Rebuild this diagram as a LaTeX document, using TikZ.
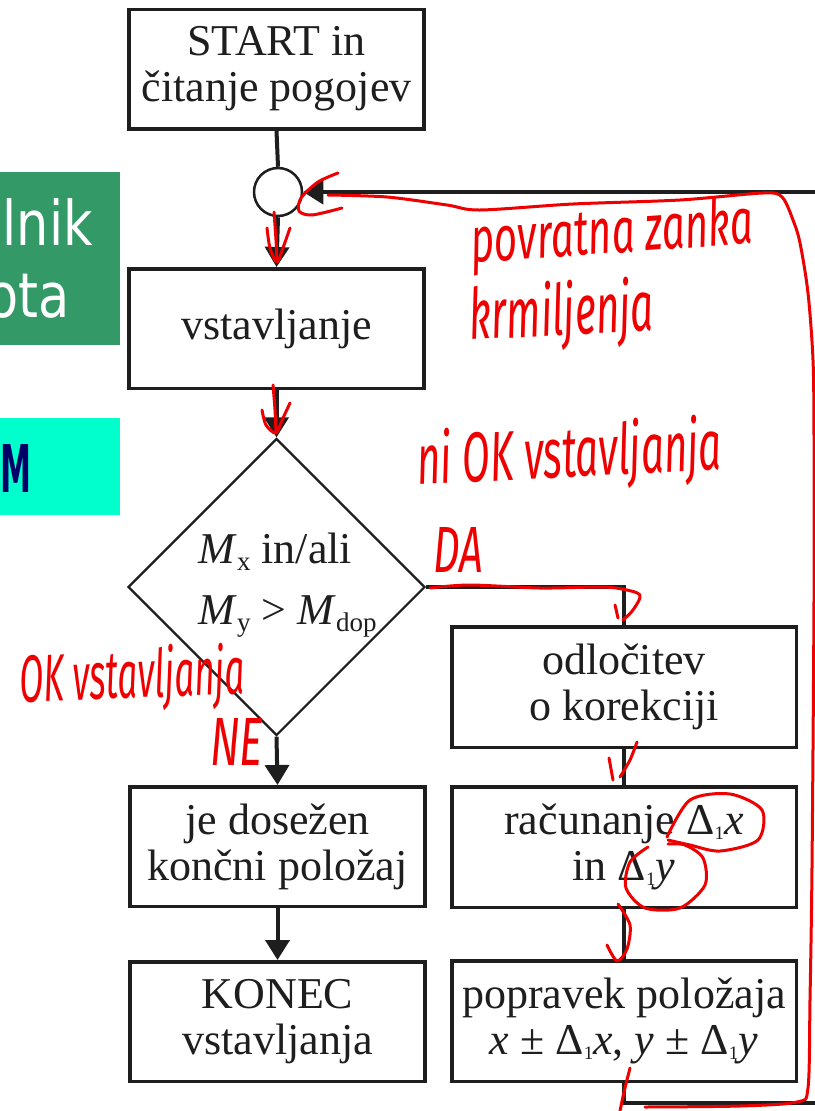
\documentclass[tikz,border=0pt]{standalone}
\usepackage{graphicx}
\usepackage{fontspec}
\setmainfont{Liberation Serif}
\newfontfamily\sansf{DejaVu Sans}
\newfontfamily\hand{Fira Sans}
\usetikzlibrary{arrows.meta,shapes.geometric}
\definecolor{ink}{HTML}{1E1E1E}
\definecolor{penred}{HTML}{EE0000}
\definecolor{boxgreen}{HTML}{339966}
\definecolor{boxcyan}{HTML}{00FFCC}
\definecolor{navy}{HTML}{000066}
\newcommand{\subx}[1]{\raisebox{-7bp}{\fontsize{27bp}{27bp}\selectfont #1}}
\newcommand{\subone}{\raisebox{-5bp}{\fontsize{19bp}{19bp}\selectfont 1}}
\begin{document}
\begin{tikzpicture}[x=1bp,y=-1bp,
  box/.style={draw=ink, line width=3.5bp, inner sep=0pt, align=center, text=ink,
              font=\fontsize{44bp}{46bp}\selectfont},
  lbox/.style={box, minimum width=295bp, minimum height=119.5bp},
  rbox/.style={box, minimum width=344.5bp, minimum height=120.5bp},
  conn/.style={draw=ink, line width=4bp},
  arr/.style={conn, -{Triangle[length=20bp,width=24bp]}},
  redink/.style={draw=penred, line width=3bp, line cap=round, line join=round},
  handnote/.style={text=penred, inner sep=0pt, font=\hand\itshape}
]
\useasboundingbox (0,0) rectangle (815,1111);
\clip (0,0) rectangle (815,1111);
\fill[white] (0,0) rectangle (815,1111);

% side boxes (cut off at the left)
\node[fill=boxgreen, minimum width=120bp, minimum height=173bp, inner sep=0pt, anchor=north west] (green) at (0,172) {};
\node[anchor=base east, inner sep=0pt, text=white] (g1) at (93,245)
  {\scalebox{0.823}[1]{\sansf\fontsize{61.8bp}{70bp}\selectfont lnik}};
\node[anchor=base east, inner sep=0pt, text=white] (g2) at (70,317)
  {\scalebox{0.823}[1]{\sansf\fontsize{61.8bp}{70bp}\selectfont ota}};
\node[fill=boxcyan, minimum width=120bp, minimum height=97bp, inner sep=0pt, anchor=north west] (cyan) at (0,418) {};
\node[anchor=base west, inner sep=0pt, text=navy] (c1) at (0,492)
  {\resizebox{31bp}{48bp}{\sansf\bfseries M}};

% flowchart
\node[lbox] (start) at (276.5,69) {START in\\čitanje pogojev};
\node[circle, draw=ink, line width=2.5bp, minimum size=48bp, inner sep=0pt] (circ) at (278,192) {};
\node[lbox] (vst) at (276.5,328.5) {vstavljanje};
\node[diamond, aspect=1, draw=ink, line width=2.2bp, minimum width=297bp, minimum height=297bp, inner sep=0pt] (dia) at (276.5,587) {};
\node[inner sep=0pt, align=left, text=ink, font=\fontsize{44bp}{61bp}\selectfont] (diatext) at (287.5,585)
  {\textit{M}\subx{x} in/ali\\\textit{M}\subx{y} > \textit{M}\subx{dop}};
\node[lbox] (jed) at (277.5,846.5) {je dosežen\\končni položaj};
\node[lbox] (kon) at (277.5,1021.5) {KONEC\\vstavljanja};
\node[rbox] (odl) at (624,687) {odločitev\\o korekciji};
\node[rbox] (rac) at (624,847) {računanje Δ\subone\textit{x}\\in Δ\subone\textit{y}};
\node[rbox] (pop) at (624,1021) {popravek položaja\\\textit{x} ± Δ\subone\textit{x}, \textit{y} ± Δ\subone\textit{y}};

\coordinate (fbB) at (830,1103);
\draw[conn] (start.south) -- (circ.north);
\draw[arr] (circ.south) -- (vst.north);
\draw[arr] (vst.south) -- (dia.north);
\draw[arr] (dia.south) -- (jed.north);
\draw[arr] (jed.south) -- (kon.north);
\draw[conn] (dia.east) -| (odl.north);
\draw[conn] (odl.south) -- (rac.north);
\draw[conn] (rac.south) -- (pop.north);
\draw[arr] (pop.south) |- (fbB) |- (circ.east);

% red handwritten annotations
\draw[redink] plot[smooth] coordinates {(338,173) (318,182) (301,198) (299,211) (312,215) (342,208)};
\draw[redink] plot[smooth] coordinates {(328,195) (387,197) (447,205) (480,210) (573,204) (680,200) (763,193) (782,197) (793,220) (800,243) (808,293) (813,360) (814,437) (814,600) (812,867) (810,1000) (808,1088) (797,1102) (740,1106) (645,1107)};
\draw[redink] plot[smooth] coordinates {(630,1068) (624,1092) (620,1111)};
\draw[redink] plot[smooth] coordinates {(274,212) (276,240) (277,262)};
\draw[redink] plot[smooth] coordinates {(267,228) (270,248) (277,262) (284,245) (290,228)};
\draw[redink] plot[smooth] coordinates {(273,385) (275,410) (276,433)};
\draw[redink] plot[smooth] coordinates {(262,410) (266,425) (276,433) (283,418) (290,403)};
\draw[redink] plot[smooth] coordinates {(430,588) (470,585) (540,588) (600,587) (622,589) (640,595) (633,610) (623,620)};
\draw[redink] plot[smooth] coordinates {(615,605) (618,618)};
\draw[redink] plot[smooth] coordinates {(637,742) (630,760) (620,777)};
\draw[redink] plot[smooth] coordinates {(609,758) (613,780)};
\draw[redink] plot[smooth] coordinates {(618,904) (630,925) (627,949) (617,961) (607,945)};
\draw[redink] plot[smooth] coordinates {(667,837) (690,800) (730,794) (762,810) (758,840) (720,851) (690,845) (668,840)};
\draw[redink] plot[smooth] coordinates {(648,847) (630,862) (626,888) (645,908) (680,908) (705,885) (703,858) (685,845) (668,844)};

\node[handnote, anchor=base west, rotate=4] (n1) at (472,263) {\resizebox{283bp}{48bp}{povratna zanka}};
\node[handnote, anchor=base west, rotate=3] (n2) at (470,340) {\resizebox{185bp}{55bp}{krmiljenja}};
\node[handnote, anchor=base west, rotate=3] (n3) at (418,485) {\resizebox{305bp}{55bp}{ni OK vstavljanja}};
\node[handnote, anchor=base west] (n4) at (433,572) {\resizebox{50bp}{45bp}{DA}};
\node[handnote, anchor=base west, rotate=2] (n5) at (20,702) {\resizebox{225bp}{52bp}{OK vstavljanja}};
\node[handnote, anchor=base west] (n6) at (210,765) {\resizebox{53bp}{47bp}{NE}};
\end{tikzpicture}
\end{document}
